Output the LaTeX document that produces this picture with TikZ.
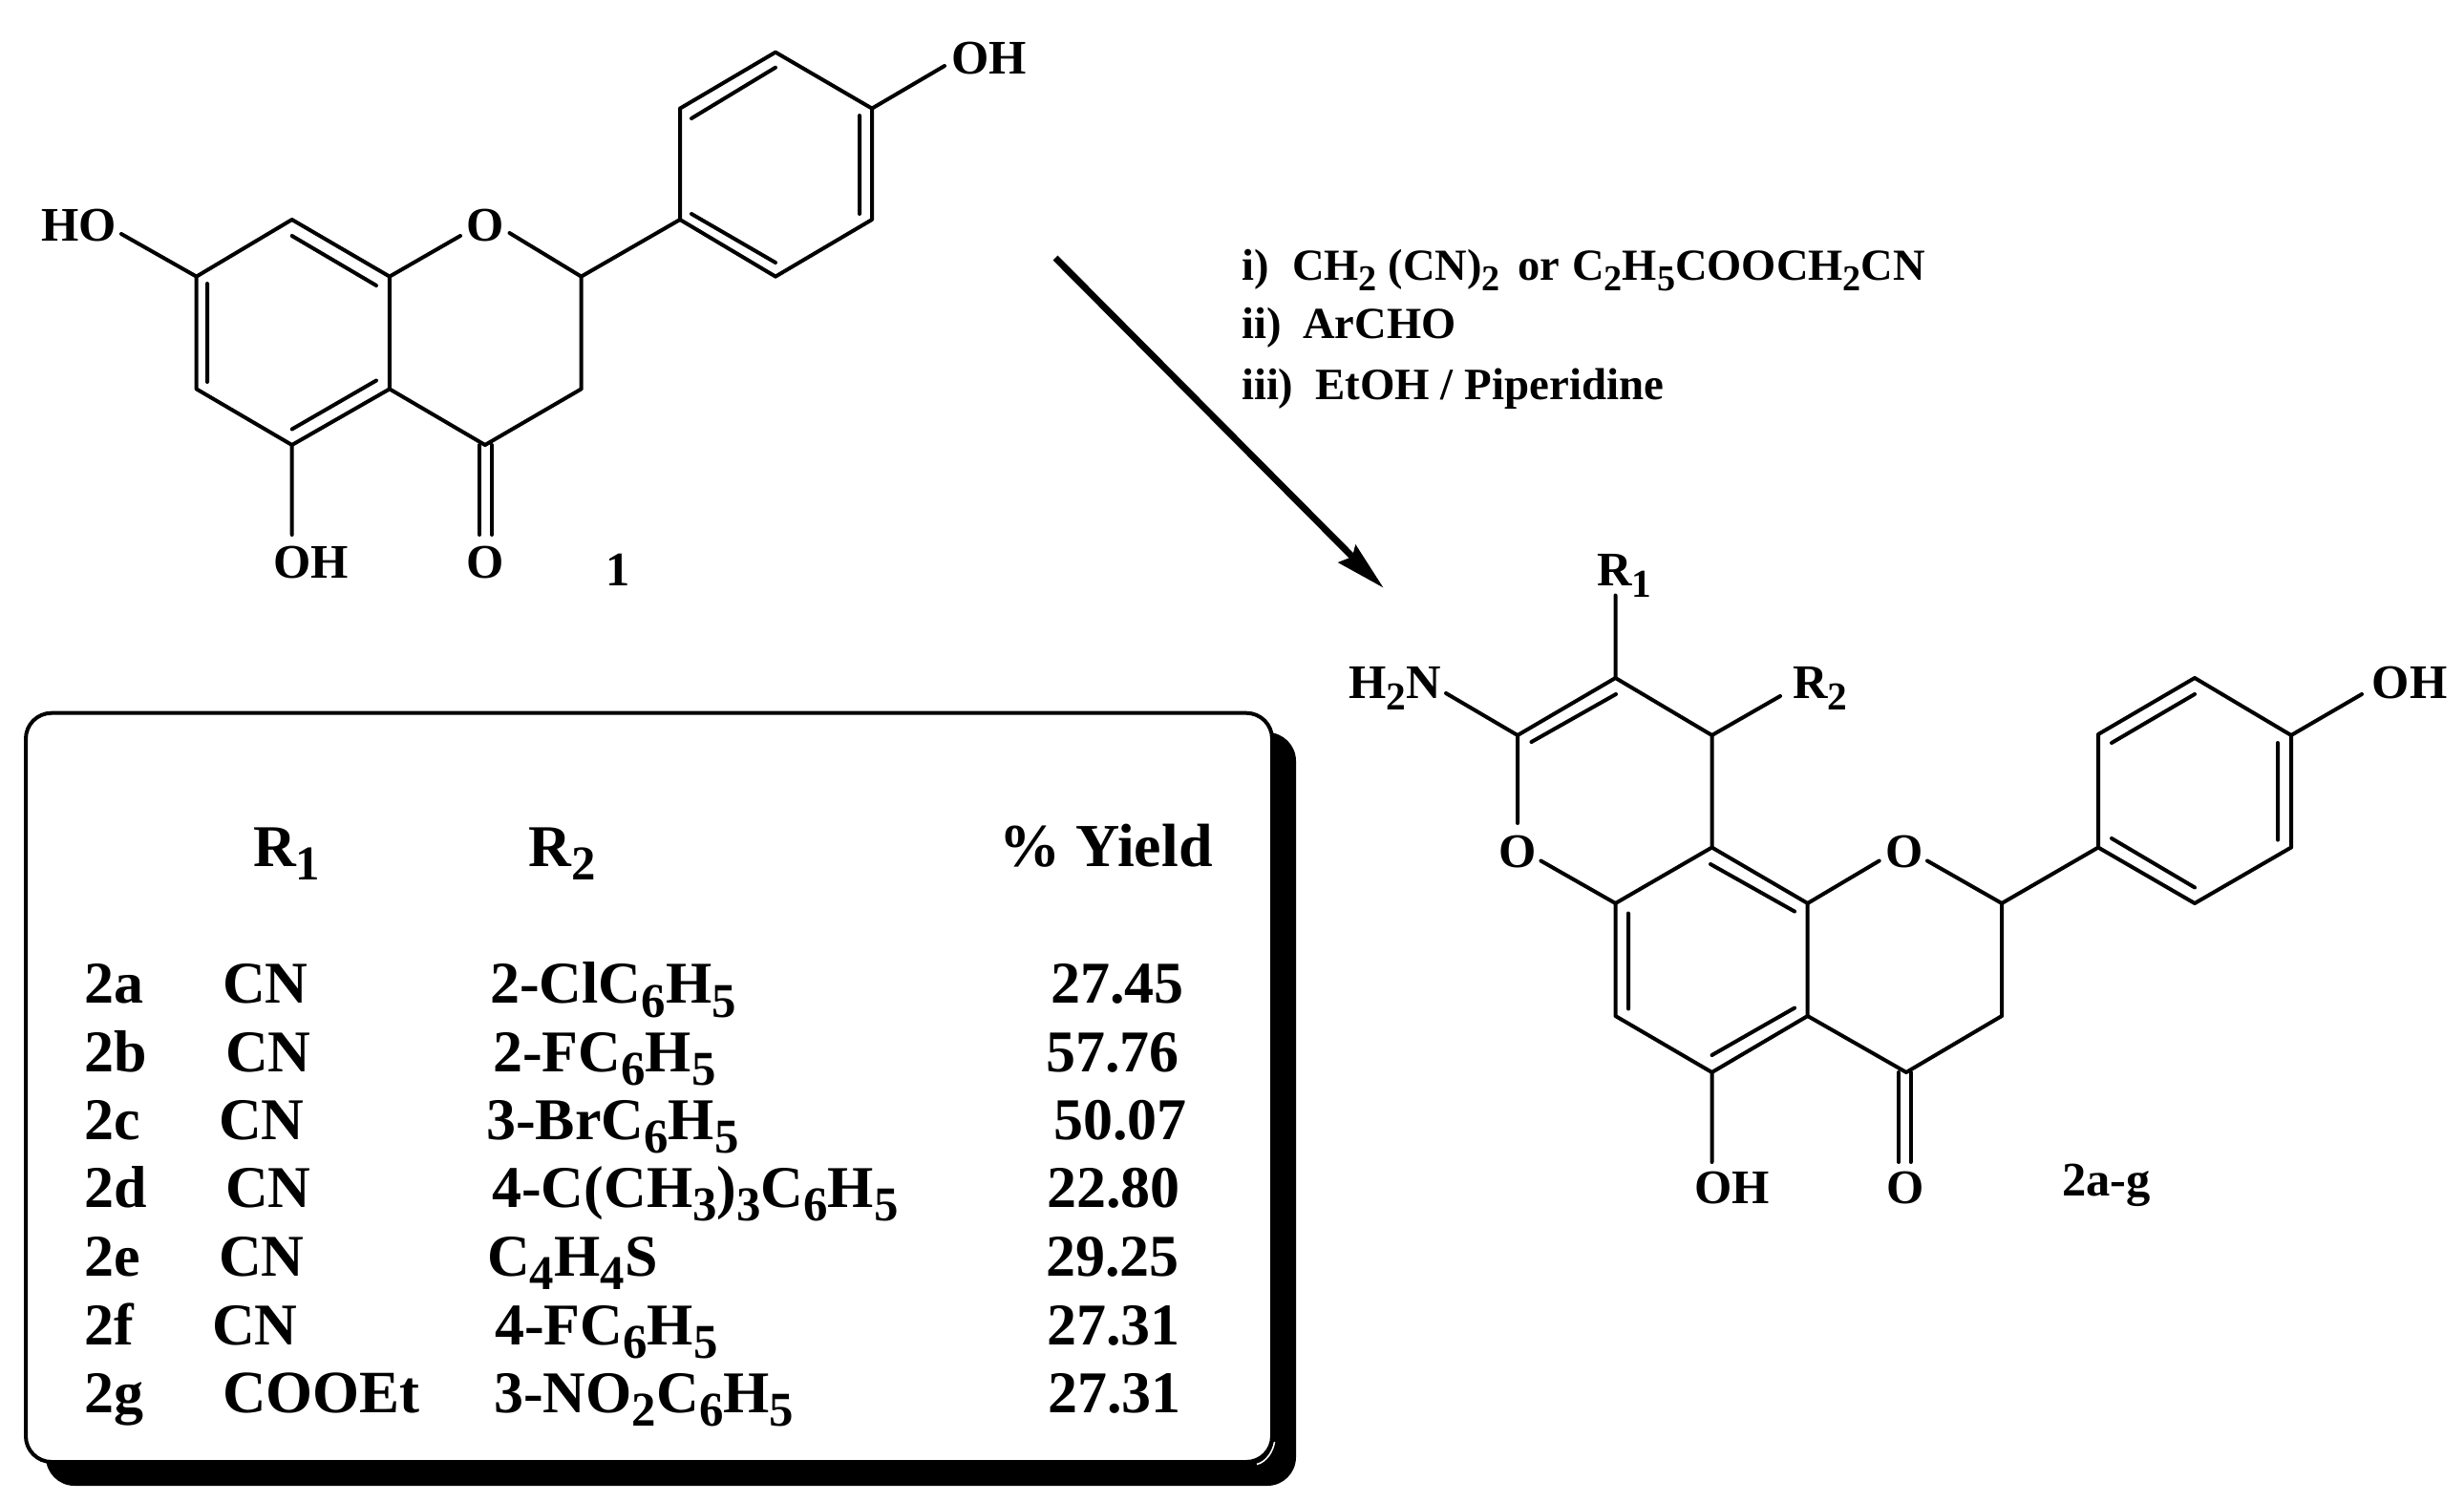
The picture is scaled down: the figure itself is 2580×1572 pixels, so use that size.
\documentclass[tikz,border=0pt]{standalone}
\usepackage{fontspec}
\setmainfont{Liberation Serif}[BoldFont={Liberation Serif Bold}]
\newcommand{\fs}[1]{\fontsize{#1}{#1}\selectfont\bfseries}
\makeatletter
\newcommand{\sbz}[1]{\raisebox{-0.24em}{\begingroup\@tempdima=\f@size pt\relax\@tempdima=0.82\@tempdima\fontsize{\strip@pt\@tempdima}{\strip@pt\@tempdima}\selectfont #1\endgroup}}
\makeatother
\tikzset{
  bond/.style={line width=4pt,line cap=round,line join=round},
  lab/.style={inner sep=0pt,anchor=base west,font=\fs{50.5}},
  labc/.style={inner sep=0pt,anchor=base,font=\fs{50.5}},
  reag/.style={inner sep=0pt,anchor=base west,font=\fs{46.5}},
  tab/.style={inner sep=0pt,anchor=base west,font=\fs{62}},
}
\begin{document}
\begin{tikzpicture}[x=1pt,y=-1pt]
\useasboundingbox (0,0) rectangle (2580,1572);
\fill[white] (0,0) rectangle (2580,1572);
% ---------- compound 1
\foreach \n/\x/\y in {A/205.7/289.6,B/305.7/230,C/407.9/289.6,D/407.9/407.4,E/305.7/466,F/205.7/407.4,
 G/608.6/289.6,H/608.6/407.4,I/507.9/466,
 Pa/712/230,Pb/712/113.6,Pc/812/54.7,Pd/913/113.6,Pe/913/230,Pf/812/289.6,
 oOHt/989/69,oHO/127/245,oOa/482/247,oOb/533.5/244,oOHb/305.7/560,
 iBa/305.7/247,iBb/394/299,iAa/217/297,iAb/217/400,iDa/394/398.5,iDb/305.7/449.5,
 iPa/724/124,iPb/812/70.7,iPc/900/121,iPd/900/224,iPe/724/224,iPf/812/275,
 cOa/502/466,cOb/502/560,cOc/515/466,cOd/515/560}
 {\coordinate (\n) at (\x,\y);}
\draw[bond] (A)--(B) (B)--(C) (C)--(D) (D)--(E) (E)--(F) (F)--(A);
\draw[bond] (D)--(I) (I)--(H) (H)--(G);
\draw[bond] (G)--(oOb) (C)--(oOa);
\draw[bond] (G)--(Pa) (Pa)--(Pb) (Pb)--(Pc) (Pc)--(Pd) (Pd)--(Pe) (Pe)--(Pf) (Pf)--(Pa);
\draw[bond] (Pd)--(oOHt) (A)--(oHO) (E)--(oOHb);
\draw[bond] (iBa)--(iBb) (iAa)--(iAb) (iDa)--(iDb) (iPa)--(iPb) (iPc)--(iPd) (iPe)--(iPf);
\draw[bond] (cOa)--(cOb) (cOc)--(cOd);
\node[lab] (t1oh) at (996,77) {OH};
\node[lab] (t1ho) at (43,252) {HO};
\node[labc] (t1o) at (508.6,252) {O};
\node[lab] (t1ohb) at (286,605) {OH};
\node[labc] (t1ok) at (508.6,605) {O};
\node[labc] (t1n) at (647,613.6) {1};
% ---------- arrow
\coordinate (arS) at (1105,270);
\coordinate (arT) at (1448.3,615.3);
\coordinate (arN) at (1416,583);
\draw[line width=7pt] (arS)--(arN);
\coordinate (arB1) at (1419.3,570);
\coordinate (arB2) at (1400.7,589);
\fill (arT)--(arB1)--(arN)--(arB2)--cycle;
% ---------- reagents
\node[reag] (ra) at (1300,293) {i)};
\node[reag] (rb) at (1353,293) {CH\sbz{2} (CN)\sbz{2}};
\node[reag] (rc) at (1589,293) {or};
\node[reag] (rd) at (1646,293) {C\sbz{2}H\sbz{5}COOCH\sbz{2}CN};
\node[reag] (re) at (1300,354) {ii)};
\node[reag] (rf) at (1364,354) {ArCHO};
\node[reag] (rg) at (1300,418) {iii)};
\node[reag,font=\fs{46.9}] (rh) at (1377,418) {EtOH / Piperidine};
% ---------- compound 2
\foreach \n/\x/\y in {a1/1589/770,a2/1691.5/710,a3/1792.5/770,a4/1792.5/887.5,a5/1691.5/946,a6/1892.7/946,
 a7/1892.7/1064,a8/1792.5/1123,a9/1691.5/1064,g1/2096/946,g2/2096/1064,g3/1996/1123,
 p1/2197/887.5,p2/2197/769,p3/2298/710,p4/2399/770,p5/2399/887.5,p6/2298/946,
 eOH/2473/727,eR1/1691.5/623.5,eNH/1514/726,eR2/1864/729,eO1a/1589/862,eO1b/1613.4/901.5,
 eO2a/1967.7/901.5,eO2b/2018/901.5,eOHb/1792.5/1217,
 j1a/1603.5/777,j1b/1692/727,j2a/1791/905,j2b/1879/954.5,j3a/1705/956.5,j3b/1705/1056.5,
 j4a/1879/1055.6,j4b/1792.5/1105,j5a/2211/778,j5b/2298/727,j6a/2385/778,j6b/2385/879.6,j7a/2211/878,j7b/2298/929.4,
 dOa/1988/1123,dOb/1988/1217,dOc/2000.6/1123,dOd/2000.6/1217}
 {\coordinate (\n) at (\x,\y);}
\draw[bond] (a1)--(a2) (a2)--(a3) (a3)--(a4) (a4)--(a5) (a4)--(a6) (a5)--(a9) (a9)--(a8) (a8)--(a7) (a7)--(a6);
\draw[bond] (a1)--(eO1a) (a5)--(eO1b) (a6)--(eO2a) (g1)--(eO2b);
\draw[bond] (a7)--(g3) (g3)--(g2) (g2)--(g1) (g1)--(p1);
\draw[bond] (p1)--(p2) (p2)--(p3) (p3)--(p4) (p4)--(p5) (p5)--(p6) (p6)--(p1);
\draw[bond] (p4)--(eOH) (a2)--(eR1) (a1)--(eNH) (a3)--(eR2) (a8)--(eOHb);
\draw[bond] (j1a)--(j1b) (j2a)--(j2b) (j3a)--(j3b) (j4a)--(j4b) (j5a)--(j5b) (j6a)--(j6b) (j7a)--(j7b);
\draw[bond] (dOa)--(dOb) (dOc)--(dOd);
\node[lab] (t2r1) at (1672,613) {R\sbz{1}};
\node[lab] (t2nh) at (1412,731.5) {H\sbz{2}N};
\node[lab] (t2r2) at (1877,731.5) {R\sbz{2}};
\node[lab] (t2oh) at (2483.5,731.5) {OH};
\node[labc] (t2o1) at (1589,908) {O};
\node[labc] (t2o2) at (1994.5,908) {O};
\node[lab] (t2ohb) at (1774,1260) {OH};
\node[labc] (t2ok) at (1995,1260) {O};
\node[lab] (t2n) at (2159,1252) {2a-g};
% ---------- table box
\fill[black,rounded corners=30pt] (48,767) rectangle (1357,1556);
\draw[white,line width=1.6pt] (1334.5,1510) .. controls (1333,1520) and (1326,1531) .. (1316,1533.5);
\draw[line width=4pt,fill=white,rounded corners=27pt] (27,746.7) rectangle (1332,1531);
\node[tab] (hR1) at (265,907) {R\sbz{1}};
\node[tab] (hR2) at (553.6,907) {R\sbz{2}};
\node[tab,font=\fs{64}] (hY) at (1046,907) {\% Yield};
\foreach \nm/\y/\la/\xb/\tb/\xc/\tc/\xd/\td in {
 a/1050.6/2a/233/CN/513/{2-ClC\sbz{6}H\sbz{5}}/1100/27.45,
 b/1122/2b/236/CN/516/{2-FC\sbz{6}H\sbz{5}}/1095/57.76,
 c/1193/2c/229/CN/509/{3-BrC\sbz{6}H\sbz{5}}/1103/50.07,
 d/1264/2d/236/CN/515/{4-C(CH\sbz{3})\sbz{3}C\sbz{6}H\sbz{5}}/1096/22.80,
 e/1336/2e/229/CN/510/{C\sbz{4}H\sbz{4}S}/1095/29.25,
 f/1408/2f/222/CN/518/{4-FC\sbz{6}H\sbz{5}}/1096/27.31,
 g/1479/2g/233/{\fontsize{63}{63}\selectfont COOEt}/517/{3-NO\sbz{2}C\sbz{6}H\sbz{5}}/1097/27.31}
{
 \node[tab] (l\nm) at (88,\y) {\la};
 \node[tab] (m\nm) at (\xb,\y) {\tb};
 \node[tab] (n\nm) at (\xc,\y) {\tc};
 \node[tab] (o\nm) at (\xd,\y) {\td};
}
\end{tikzpicture}
\end{document}
